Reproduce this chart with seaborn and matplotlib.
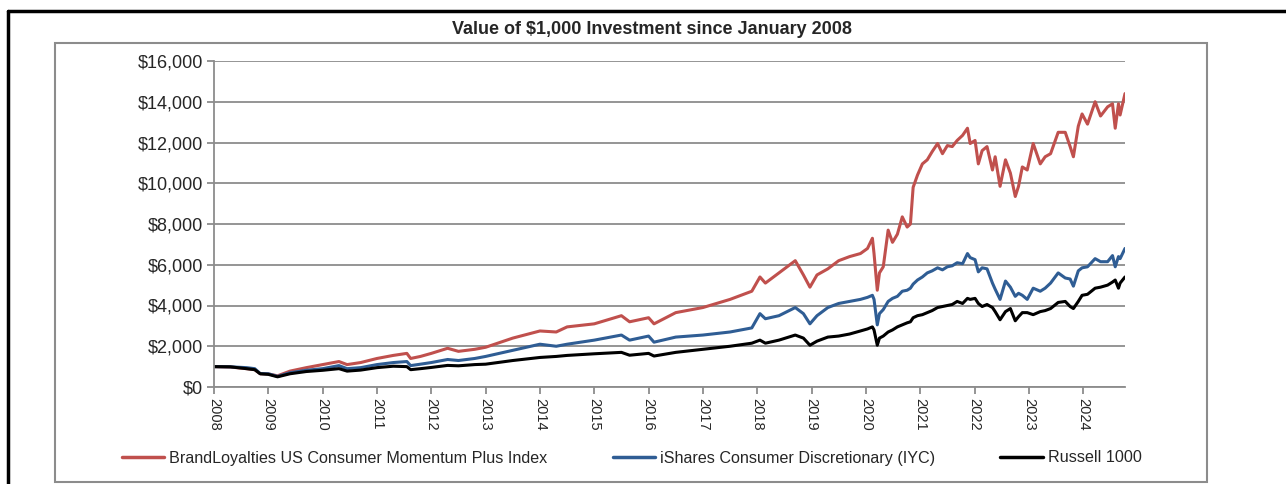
import pandas as pd
import matplotlib.pyplot as plt
import matplotlib.patches as mpatches
import seaborn as sns

# decimal years and values (value of $1,000)
years = [2008.0, 2008.3, 2008.6, 2008.75, 2008.85, 2009.0, 2009.17, 2009.4, 2009.7,
         2010.0, 2010.3, 2010.45, 2010.7, 2011.0, 2011.3, 2011.55, 2011.62, 2011.8,
         2012.0, 2012.3, 2012.5, 2012.8, 2013.0, 2013.5, 2014.0, 2014.3, 2014.5,
         2015.0, 2015.5, 2015.65, 2016.0, 2016.1, 2016.5, 2017.0, 2017.5, 2017.9,
         2018.05, 2018.15, 2018.4, 2018.7, 2018.85, 2018.97, 2019.1, 2019.3, 2019.5,
         2019.7, 2019.9, 2020.03, 2020.12, 2020.15, 2020.21, 2020.25, 2020.32, 2020.41,
         2020.49, 2020.58, 2020.67, 2020.76, 2020.82, 2020.87, 2020.95, 2021.04, 2021.13,
         2021.22, 2021.32, 2021.41, 2021.5, 2021.59, 2021.68, 2021.78, 2021.87, 2021.92,
         2022.01, 2022.07, 2022.14, 2022.23, 2022.33, 2022.38, 2022.47, 2022.57, 2022.66,
         2022.75, 2022.81, 2022.88, 2022.97, 2023.08, 2023.21, 2023.3, 2023.4, 2023.54,
         2023.67, 2023.76, 2023.82, 2023.91, 2023.98, 2024.08, 2024.22, 2024.32, 2024.45,
         2024.54, 2024.59, 2024.65, 2024.68, 2024.77]

brand = [1000, 980, 900, 850, 650, 640, 550, 780, 950,
         1100, 1250, 1100, 1200, 1400, 1550, 1650, 1400, 1500,
         1650, 1900, 1750, 1850, 1950, 2400, 2750, 2700, 2950,
         3100, 3500, 3200, 3400, 3100, 3650, 3900, 4300, 4700,
         5400, 5100, 5600, 6200, 5500, 4900, 5500, 5800, 6200,
         6400, 6550, 6800, 7300, 6550, 4750, 5600, 5900, 7700,
         7100, 7500, 8350, 7850, 8000, 9800, 10400, 10950, 11150,
         11550, 11950, 11450, 11850, 11800, 12100, 12350, 12700, 11950,
         12100, 10950, 11600, 11800, 10650, 11300, 9850, 11150, 10500,
         9350, 9850, 10800, 10650, 11950, 10950, 11300, 11450, 12500,
         12500, 11800, 11300, 12800, 13400, 12900, 14000, 13300, 13750,
         13900, 12700, 13900, 13350, 14400]

ishares = [1000, 990, 950, 900, 660, 650, 520, 700, 820,
           900, 1050, 900, 950, 1100, 1200, 1250, 1050, 1120,
           1200, 1350, 1300, 1400, 1500, 1800, 2100, 2000, 2100,
           2300, 2550, 2300, 2500, 2200, 2450, 2550, 2700, 2900,
           3600, 3350, 3500, 3900, 3600, 3100, 3500, 3900, 4100,
           4200, 4300, 4400, 4500, 4300, 3050, 3600, 3800, 4200,
           4350, 4450, 4700, 4750, 4850, 5050, 5250, 5400, 5600,
           5700, 5850, 5750, 5900, 5950, 6100, 6050, 6550, 6350,
           6250, 5650, 5850, 5800, 5100, 4800, 4300, 5200, 4900,
           4450, 4600, 4500, 4300, 4850, 4700, 4850, 5100, 5600,
           5350, 5300, 4950, 5700, 5850, 5900, 6300, 6150, 6150,
           6450, 5900, 6400, 6300, 6800]

russell = [1000, 990, 900, 850, 650, 620, 500, 650, 760,
           820, 900, 780, 830, 950, 1020, 1000, 850, 900,
           960, 1060, 1040, 1100, 1120, 1300, 1450, 1500, 1550,
           1630, 1700, 1560, 1650, 1520, 1700, 1850, 2000, 2150,
           2300, 2150, 2300, 2550, 2400, 2050, 2250, 2450, 2500,
           2600, 2750, 2850, 2950, 2800, 2050, 2400, 2500, 2700,
           2800, 2950, 3050, 3150, 3200, 3400, 3500, 3550, 3650,
           3750, 3900, 3950, 4000, 4050, 4200, 4100, 4350, 4300,
           4350, 4100, 3950, 4050, 3900, 3700, 3300, 3700, 3850,
           3250, 3450, 3650, 3650, 3550, 3700, 3750, 3850, 4150,
           4200, 3950, 3850, 4200, 4500, 4550, 4850, 4900, 5000,
           5150, 5250, 4850, 5100, 5400]

series_names = ['BrandLoyalties US Consumer Momentum Plus Index',
                'iShares Consumer Discretionary (IYC)',
                'Russell 1000']
colors = ['#C0504D', '#2F5D94', '#000000']
year_ticks = list(range(2008, 2025))

df = pd.concat([
    pd.DataFrame({'year': years, 'value': vals, 'series': name})
    for name, vals in zip(series_names, [brand, ishares, russell])
])

sns.set_style('white')
plt.rcParams['font.family'] = ['Liberation Sans', 'DejaVu Sans']

fig = plt.figure(figsize=(12.86, 4.84), dpi=100)
ax = fig.add_axes([214 / 1286, 1 - 387 / 484, (1125 - 214) / 1286, (387 - 61) / 484])

sns.lineplot(data=df, x='year', y='value', hue='series', hue_order=series_names,
             palette=colors, linewidth=2.2, ax=ax, legend=False)

ax.set_xlim(2008, 2024.77)
ax.set_ylim(0, 16000)
ax.set_yticks(range(0, 16001, 2000))
ax.set_yticklabels(['${:,}'.format(v) for v in range(0, 16001, 2000)], fontsize=13)
ax.set_xticks(year_ticks)
ax.set_xticklabels([str(y) for y in year_ticks], rotation=-90, fontsize=10.5)
ax.set_xlabel('')
ax.set_ylabel('')
ax.grid(axis='y', color='#8c8c8c', linewidth=1.3)
ax.set_axisbelow(True)
for s in ['top', 'right']:
    ax.spines[s].set_visible(False)
for s in ['left', 'bottom']:
    ax.spines[s].set_color('#8c8c8c')
    ax.spines[s].set_linewidth(1.3)
ax.tick_params(axis='both', which='major', length=5, width=1.3, color='#8c8c8c',
               direction='out', left=True, bottom=True, pad=3)

# legend along the bottom
handles = [plt.Line2D([], [], color=c, linewidth=2.5) for c in colors]
fig.legend(handles, series_names, loc='center left', bbox_to_anchor=(107 / 1286, 1 - 458 / 484),
           ncol=3, frameon=False, fontsize=11.6, handlelength=2.65, handletextpad=0.3,
           columnspacing=4.05)

fig.text(652 / 1286, 1 - 30 / 484, 'Value of $1,000 Investment since January 2008',
         ha='center', va='center', fontsize=13, fontweight='bold')

# grey chart frame and black outer border
fig.patches.append(mpatches.Rectangle((55 / 1286, 1 - 482 / 484), (1207 - 55) / 1286, (482 - 43) / 484,
                                      transform=fig.transFigure, fill=False,
                                      edgecolor='#8c8c8c', linewidth=1.5))
fig.add_artist(plt.Line2D([8 / 1286, 1], [1 - 11 / 484, 1 - 11 / 484],
                          transform=fig.transFigure, color='black', linewidth=2.5))
fig.add_artist(plt.Line2D([8 / 1286, 8 / 1286], [0, 1 - 11 / 484],
                          transform=fig.transFigure, color='black', linewidth=2.5))

fig.savefig('out.png', dpi=100)
